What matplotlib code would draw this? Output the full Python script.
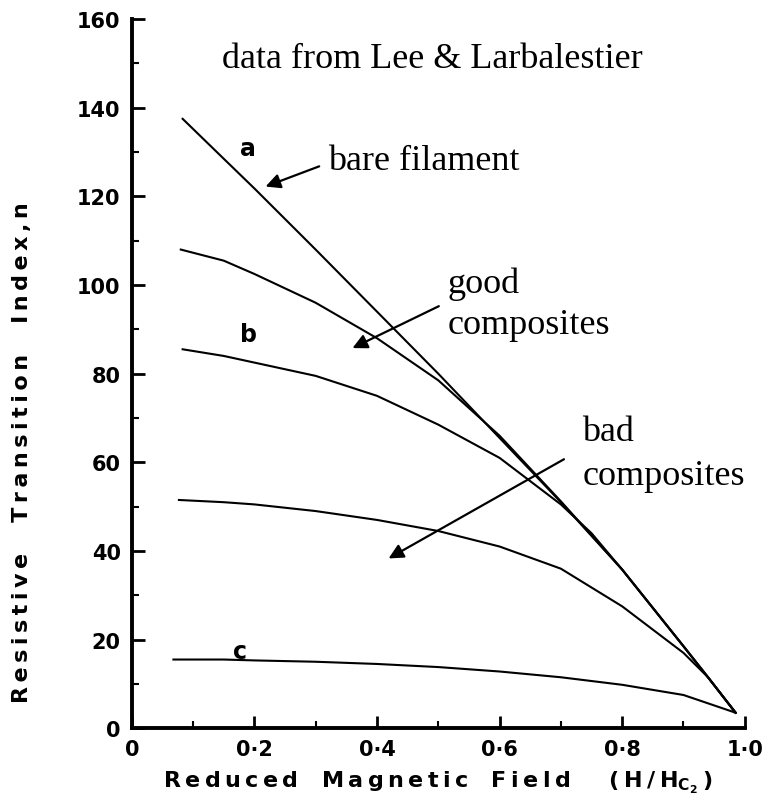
import matplotlib.pyplot as plt
from matplotlib.ticker import MultipleLocator, FixedLocator

# reduced field values (H/Hc2) and n-values for each curve
field_a = [0.083, 0.15, 0.2, 0.3, 0.4, 0.5, 0.6, 0.7, 0.8, 0.9, 0.94, 0.985]
n_a = [137.5, 128.5, 121.8, 108, 94, 80, 65.5, 51, 35.8, 18.5, 11.5, 3.5]

field_good = [0.08, 0.15, 0.2, 0.3, 0.4, 0.5, 0.6, 0.7, 0.8, 0.9, 0.94, 0.985]
n_good = [108, 105.5, 102.5, 96, 88, 78.5, 66, 51.2, 35.8, 18.5, 11.5, 3.5]

field_b = [0.083, 0.15, 0.2, 0.3, 0.4, 0.5, 0.6, 0.7, 0.75, 0.8, 0.9, 0.94, 0.985]
n_b = [85.5, 84, 82.5, 79.5, 75, 68.5, 61, 50.5, 44, 35.8, 18.5, 11.5, 3.5]

field_bad = [0.077, 0.15, 0.2, 0.3, 0.4, 0.5, 0.6, 0.7, 0.8, 0.9, 0.94, 0.985]
n_bad = [51.5, 51, 50.5, 49, 47, 44.5, 41, 36, 27.5, 17, 11.5, 3.5]

field_c = [0.068, 0.15, 0.2, 0.3, 0.4, 0.5, 0.6, 0.7, 0.8, 0.9, 0.985]
n_c = [15.5, 15.5, 15.3, 15, 14.5, 13.8, 12.8, 11.5, 9.8, 7.5, 3.5]

x_ticks = [0, 0.2, 0.4, 0.6, 0.8, 1.0]
x_ticklabels = ['0', '0·2', '0·4', '0·6', '0·8', '1·0']
y_ticks = [0, 20, 40, 60, 80, 100, 120, 140, 160]


def spaced(words, gap='   '):
    # letter-spaced words, thin space between letters
    return gap.join('\u2009'.join(w) for w in words.split())


fig = plt.figure(figsize=(7.75, 8.04), dpi=100)
ax = fig.add_axes([0.170, 0.093, 0.791, 0.882])

for xs, ys in [(field_a, n_a), (field_good, n_good), (field_b, n_b),
               (field_bad, n_bad), (field_c, n_c)]:
    ax.plot(xs, ys, color='black', lw=1.5)

ax.set_xlim(0, 1.0)
ax.set_ylim(0, 160)
ax.spines['top'].set_visible(False)
ax.spines['right'].set_visible(False)
ax.spines['left'].set_linewidth(2.8)
ax.spines['bottom'].set_linewidth(2.8)

ax.xaxis.set_major_locator(FixedLocator(x_ticks))
ax.set_xticklabels(x_ticklabels)
ax.xaxis.set_minor_locator(MultipleLocator(0.1))
ax.yaxis.set_major_locator(FixedLocator(y_ticks))
ax.yaxis.set_minor_locator(MultipleLocator(10))
ax.tick_params(which='major', direction='in', length=9, width=2, labelsize=15, pad=8)
ax.tick_params(which='minor', direction='in', length=5, width=1.5)
for lab in ax.get_xticklabels() + ax.get_yticklabels():
    lab.set_fontweight('bold')

plt.rcParams['mathtext.fontset'] = 'dejavusans'
ax.set_xlabel(spaced('Reduced Magnetic Field') + '     (\u2009H\u2009/\u2009H$\\mathbf{_{C_2}}$\u2009)',
              fontsize=16, fontweight='bold')
ax.xaxis.set_label_coords(0.50, -0.057)
ax.set_ylabel(spaced('Resistive Transition Index,', gap='    ') + '\u2009n', fontsize=16,
              fontweight='bold')
ax.yaxis.set_label_coords(-0.163, 0.39)

# curve letters
ax.text(0.19, 131, 'a', fontsize=17, fontweight='bold', ha='center', va='center')
ax.text(0.19, 89, 'b', fontsize=17, fontweight='bold', ha='center', va='center')
ax.text(0.176, 17.5, 'c', fontsize=17, fontweight='bold', ha='center', va='center')

serif = 'Liberation Serif'
ax.text(0.49, 151, 'data from Lee & Larbalestier', family=serif, fontsize=26,
        ha='center', va='center')
ax.text(0.32, 128, 'bare filament', family=serif, fontsize=26, va='center')
ax.text(0.515, 100.5, 'good', family=serif, fontsize=26, va='center')
ax.text(0.515, 91, 'composites', family=serif, fontsize=26, va='center')
ax.text(0.735, 67, 'bad', family=serif, fontsize=26, va='center')
ax.text(0.735, 57, 'composites', family=serif, fontsize=26, va='center')

arrow = dict(arrowstyle='-|>', color='black', lw=1.6, mutation_scale=22)
ax.annotate('', xy=(0.214, 122), xytext=(0.31, 127), arrowprops=arrow)
ax.annotate('', xy=(0.356, 85.5), xytext=(0.505, 95.5), arrowprops=arrow)
ax.annotate('', xy=(0.415, 38), xytext=(0.709, 61), arrowprops=arrow)

fig.savefig('out.png', dpi=100)
